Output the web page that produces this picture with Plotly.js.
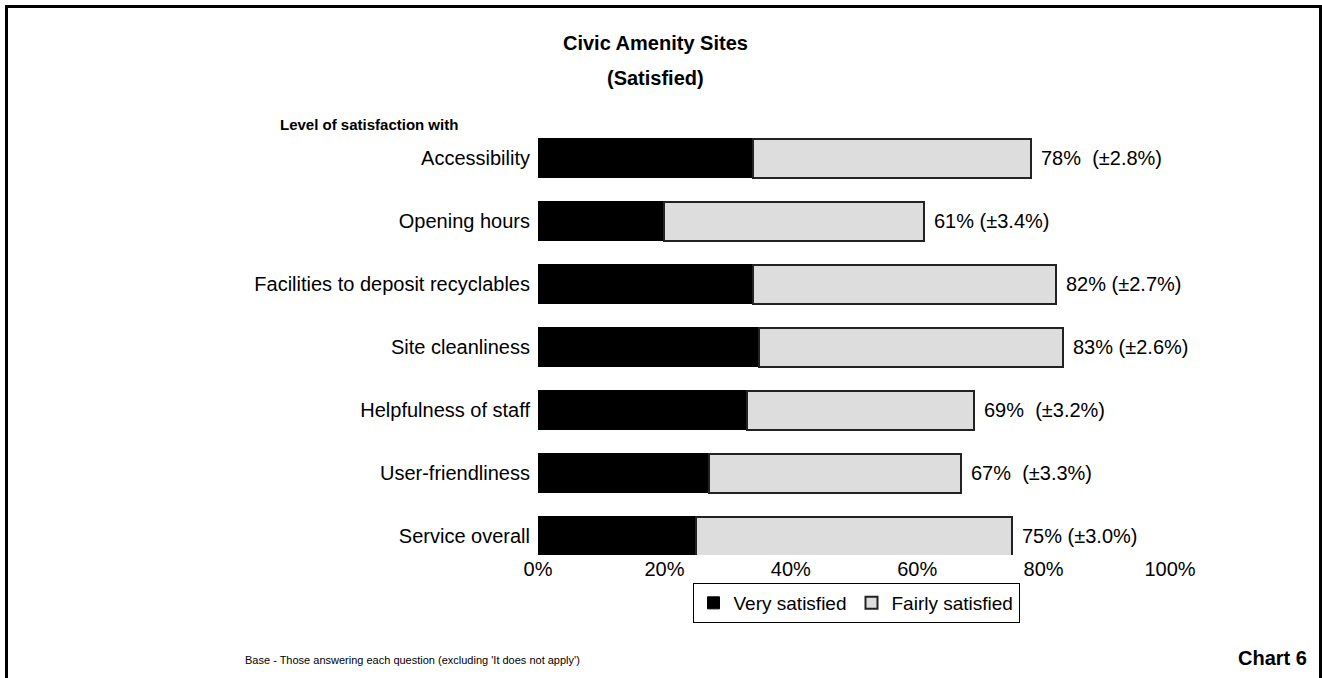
<!DOCTYPE html>
<html>
<head>
<meta charset="utf-8">
<script src="https://cdn.plot.ly/plotly-3.0.1.min.js"></script>
<style>
html,body{margin:0;padding:0;background:#fff;}
#wrap{position:relative;width:1322px;height:678px;overflow:hidden;}
#chart{position:absolute;left:0;top:0;width:1322px;height:678px;}
#frame{position:absolute;left:5px;top:5px;width:1311px;height:720px;border:3px solid #000;pointer-events:none;}
</style>
</head>
<body>
<div id="wrap"><div id="chart"></div><div id="frame"></div></div>
<script>
const categories = ["Accessibility","Opening hours","Facilities to deposit recyclables","Site cleanliness","Helpfulness of staff","User-friendliness","Service overall"];
const verySatisfied = [34,20,34,35,33,27,25];
const fairlySatisfied = [44,41,48,48,36,40,50];
const totals = [78,61,82,83,69,67,75];
const valueLabels = ["78%  (±2.8%)","61% (±3.4%)","82% (±2.7%)","83% (±2.6%)","69%  (±3.2%)","67%  (±3.3%)","75% (±3.0%)"];
const xTickVals = [0,20,40,60,80,100];
const xTickText = ["0%","20%","40%","60%","80%","100%"];

const font = "Arial, 'Liberation Sans', sans-serif";

const W = 1322, H = 678;
const M = {l:538, r:152, t:127, b:123};
const pw = W - M.l - M.r, ph = H - M.t - M.b;
const px = p => (p - M.l) / pw;
const py = p => (H - M.b - p) / ph;

const traces = [
  {type:"bar", orientation:"h", name:"Very satisfied", y:categories, x:verySatisfied,
   marker:{color:"#000000", line:{color:"#000", width:1}}, width:0.62, hoverinfo:"skip"},
  {type:"bar", orientation:"h", name:"Fairly satisfied", y:categories, x:fairlySatisfied,
   marker:{color:"#dddddd", line:{color:"#222", width:2}}, width:0.62, hoverinfo:"skip"}
];

const annotations = categories.map((c,i)=>({
  x: totals[i], y: c, xref:"x", yref:"y", text: valueLabels[i], showarrow:false,
  xanchor:"left", xshift:8, font:{family:font, size:20, color:"#000"}
}));
annotations.push(
  {text:"<b>Civic Amenity Sites</b>", xref:"paper", yref:"paper", x:px(655), y:py(43), showarrow:false, xanchor:"center", yanchor:"middle", font:{family:font, size:20, color:"#000"}},
  {text:"<b>(Satisfied)</b>", xref:"paper", yref:"paper", x:px(655), y:py(78), showarrow:false, xanchor:"center", yanchor:"middle", font:{family:font, size:20, color:"#000"}},
  {text:"<b>Level of satisfaction with</b>", xref:"paper", yref:"paper", x:px(278), y:py(125), showarrow:false, xanchor:"left", yanchor:"middle", font:{family:font, size:15, color:"#000"}},
  {text:"Base - Those answering each question (excluding 'It does not apply')", xref:"paper", yref:"paper", x:px(243), y:py(660), showarrow:false, xanchor:"left", yanchor:"middle", font:{family:font, size:11, color:"#000"}},
  {text:"<b>Chart 6</b>", xref:"paper", yref:"paper", x:px(1309), y:py(658), showarrow:false, xanchor:"right", yanchor:"middle", font:{family:font, size:20, color:"#000"}}
);

const layout = {
  width:W, height:H,
  margin:M,
  paper_bgcolor:"#fff", plot_bgcolor:"#fff",
  barmode:"stack",
  showlegend:true,
  legend:{orientation:"h", traceorder:"normal", x:px(856), xanchor:"center", y:py(583), yanchor:"top",
          bordercolor:"#000", borderwidth:1, bgcolor:"#fff",
          font:{family:font, size:19, color:"#000"}, itemwidth:30},
  xaxis:{range:[0,100], tickvals:xTickVals, ticktext:xTickText, showgrid:false, zeroline:false,
         showline:false, ticks:"", tickfont:{family:font, size:20, color:"#000"}, fixedrange:true},
  yaxis:{categoryorder:"array", categoryarray:categories, autorange:false, range:[6.3,-0.5],
         showgrid:false, zeroline:false, showline:false, ticks:"", ticklabelstandoff:7,
         tickfont:{family:font, size:20, color:"#000"}, fixedrange:true},
  annotations: annotations
};

Plotly.newPlot("chart", traces, layout, {displayModeBar:false, staticPlot:true});
</script>
</body>
</html>
